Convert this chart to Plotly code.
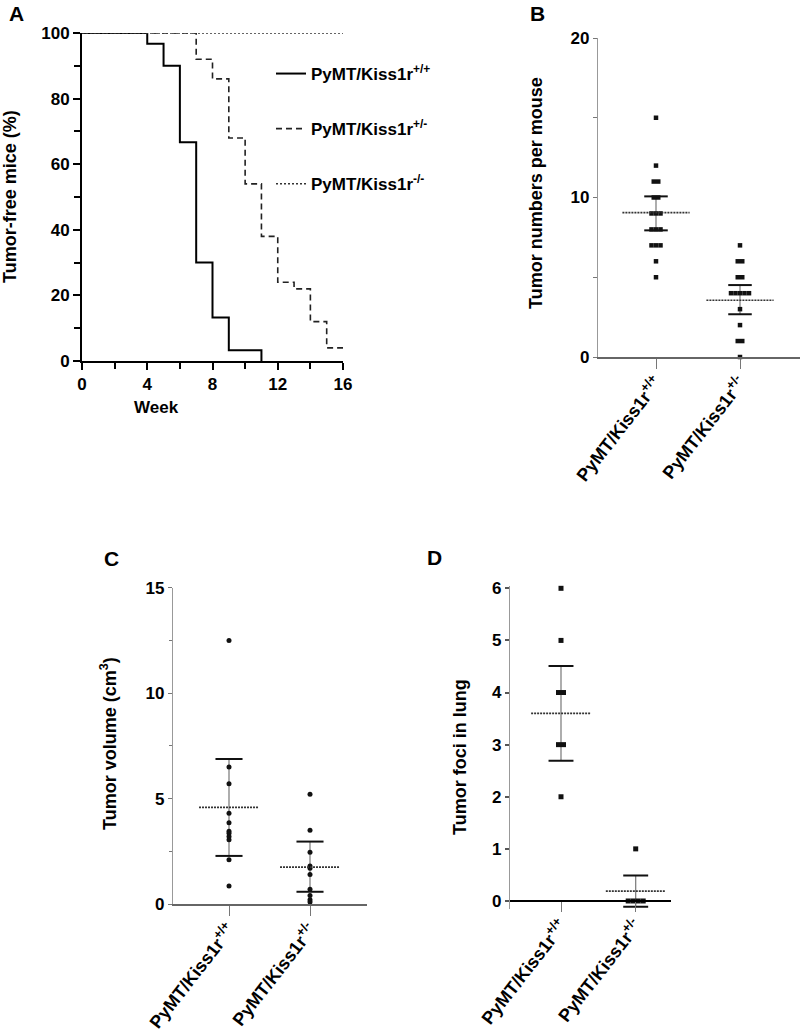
import plotly.graph_objects as go

# ---------------- data ----------------
# Panel A: Kaplan-Meier tumor-free curves
weeks_wt = [0, 4, 5, 6, 7, 8, 9, 11]
surv_wt = [100, 96.7, 90, 66.7, 30, 13.3, 3.3, 0]
weeks_het = [0, 7, 8, 9, 10, 11, 12, 13, 14, 15, 16]
surv_het = [100, 92, 86, 68, 54, 38, 24, 22, 12, 4, 4]
weeks_ko = [0, 16]
surv_ko = [100, 100]
legend_names = ["PyMT/Kiss1r<sup>+/+</sup>", "PyMT/Kiss1r<sup>+/-</sup>", "PyMT/Kiss1r<sup>-/-</sup>"]

categories = ["PyMT/Kiss1r<sup>+/+</sup>", "PyMT/Kiss1r<sup>+/-</sup>"]

# Panel B: tumor numbers per mouse
B_wt = [15, 12, 11, 11, 10, 10, 9, 9, 9, 8, 8, 8, 7, 7, 7, 6, 5]
B_het = [7, 6, 6, 5, 5, 4, 4, 4, 4, 4, 3, 2, 1, 1, 0]
B_mean = [9.05, 3.56]
B_hi = [10.07, 4.51]
B_lo = [7.94, 2.68]

# Panel C: tumor volume (cm3)
C_wt = [12.5, 6.5, 5.7, 4.3, 3.85, 3.45, 3.35, 3.2, 3.05, 2.1, 0.85]
C_het = [5.2, 3.5, 2.45, 1.8, 1.7, 1.4, 0.7, 0.4, 0.2, 0.1]
C_mean = [4.58, 1.75]
C_hi = [6.88, 2.96]
C_lo = [2.28, 0.58]

# Panel D: tumor foci in lung
D_wt = [6, 5, 4, 4, 3, 3, 2]
D_het = [1, 0, 0, 0, 0]
D_mean = [3.6, 0.19]
D_hi = [4.51, 0.49]
D_lo = [2.69, -0.11]

# ---------------- helpers ----------------
W, H = 800, 1031
FONT = "Liberation Sans, Arial, sans-serif"


def px_x(p):
    return p / W


def px_y(p):
    return 1 - p / H


def tie_offsets(vals, step):
    counts = {}
    for v in vals:
        counts[v] = counts.get(v, 0) + 1
    seen = {}
    out = []
    for v in vals:
        k = seen.get(v, 0)
        seen[v] = k + 1
        out.append((k - (counts[v] - 1) / 2) * step)
    return out


fig = go.Figure()

# ---- Panel A ----
fig.add_trace(go.Scatter(x=weeks_wt, y=surv_wt, mode="lines", line=dict(color="black", width=2, shape="hv"),
                         name=legend_names[0], legendgroup="a", xaxis="x", yaxis="y", cliponaxis=False))
fig.add_trace(go.Scatter(x=weeks_het, y=surv_het, mode="lines",
                         line=dict(color="#222", width=1.6, shape="hv", dash="6px,4px"),
                         name=legend_names[1], legendgroup="b", xaxis="x", yaxis="y", cliponaxis=False))
fig.add_trace(go.Scatter(x=weeks_ko, y=surv_ko, mode="lines",
                         line=dict(color="#333", width=1.5, shape="hv", dash="2px,2px"),
                         name=legend_names[2], legendgroup="c", xaxis="x", yaxis="y", cliponaxis=False))


def add_dot_panel(xa, ya, groups, means, his, los, step, msym, msize, cap_half, mean_half):
    for i, vals in enumerate(groups):
        cx = i + 1
        fig.add_trace(go.Scatter(x=[cx, cx], y=[los[i], his[i]], mode="lines",
                                 line=dict(color="#777", width=1.2), showlegend=False,
                                 xaxis=xa, yaxis=ya, hoverinfo="skip", cliponaxis=False))
        offs = tie_offsets(vals, step)
        fig.add_trace(go.Scatter(x=[cx + o for o in offs], y=vals, mode="markers",
                                 marker=dict(color="#111", size=msize, symbol=msym),
                                 showlegend=False, xaxis=xa, yaxis=ya, cliponaxis=False))
        fig.add_trace(go.Scatter(x=[cx - cap_half, cx + cap_half, None, cx - cap_half, cx + cap_half],
                                 y=[his[i], his[i], None, los[i], los[i]], mode="lines",
                                 line=dict(color="#111", width=2), showlegend=False,
                                 xaxis=xa, yaxis=ya, hoverinfo="skip", cliponaxis=False))
        fig.add_trace(go.Scatter(x=[cx - mean_half, cx + mean_half], y=[means[i], means[i]], mode="lines",
                                 line=dict(color="#333", width=1.6, dash="2px,1px"), showlegend=False,
                                 xaxis=xa, yaxis=ya, hoverinfo="skip", cliponaxis=False))


add_dot_panel("x2", "y2", [B_wt, B_het], B_mean, B_hi, B_lo, 4.5 / 84, "square", 4.5, 0.14, 0.4)
add_dot_panel("x3", "y3", [C_wt, C_het], C_mean, C_hi, C_lo, 4.5 / 81, "circle", 5, 0.167, 0.37)
add_dot_panel("x4", "y4", [D_wt, D_het], D_mean, D_hi, D_lo, 5 / 74.7, "square", 5, 0.167, 0.4)

tickfont = dict(family=FONT, size=17, color="black", weight="bold")
catfont = dict(family=FONT, size=18, color="black", weight="bold")

common = dict(automargin=False, showgrid=False, zeroline=False, showline=True)
catcommon = dict(tickmode="array", tickvals=[1, 2], ticktext=categories, tickangle=-52,
                 ticks="outside", ticklen=10, tickwidth=1, tickcolor="#777", tickfont=catfont,
                 ticklabelstandoff=-4)

layout = dict(
    width=W, height=H, margin=dict(l=0, r=0, t=0, b=0, autoexpand=False),
    paper_bgcolor="white", plot_bgcolor="white", showlegend=True,
    font=dict(family=FONT, color="black"),
    legend=dict(x=px_x(271), y=px_y(56), xanchor="left", yanchor="top",
                font=dict(family=FONT, size=17, color="black", weight="bold"),
                tracegroupgap=30, traceorder="grouped", bgcolor="rgba(0,0,0,0)",
                itemwidth=30),
    # Panel A
    xaxis=dict(domain=[px_x(82), px_x(343)], range=[0, 16], anchor="y",
               linecolor="black", linewidth=2,
               ticks="outside", ticklen=7, tickwidth=2, tickcolor="black", dtick=4, tick0=0,
               minor=dict(dtick=2, ticks="outside", ticklen=6, tickwidth=1.5, tickcolor="black"),
               tickfont=tickfont, **common),
    yaxis=dict(domain=[px_y(361), px_y(33)], range=[0, 100], anchor="x",
               linecolor="black", linewidth=2,
               ticks="outside", ticklen=7, tickwidth=2, tickcolor="black", dtick=20, tick0=0,
               minor=dict(dtick=10, ticks="outside", ticklen=6, tickwidth=1.5, tickcolor="black"),
               tickfont=tickfont, **common),
    # Panel B
    xaxis2=dict(domain=[px_x(598), px_x(800)], range=[1 - 58 / 84, 2 + 60 / 84], anchor="y2",
                linecolor="#666", linewidth=2, **catcommon, **common),
    yaxis2=dict(domain=[px_y(357), px_y(38)], range=[0, 20], anchor="x2",
                linecolor="#999", linewidth=1.2,
                ticks="outside", ticklen=4, tickwidth=1, tickcolor="#777", dtick=10, tick0=0,
                minor=dict(dtick=5, ticks="outside", ticklen=4, tickwidth=1, tickcolor="#777"),
                tickfont=tickfont, **common),
    # Panel C
    xaxis3=dict(domain=[px_x(173), px_x(367)], range=[1 - 56 / 81, 2 + 57 / 81], anchor="y3",
                linecolor="#666", linewidth=2, **catcommon, **common),
    yaxis3=dict(domain=[px_y(904), px_y(587.7)], range=[0, 15], anchor="x3",
                linecolor="#999", linewidth=1.2,
                ticks="outside", ticklen=4, tickwidth=1, tickcolor="#777", dtick=5, tick0=0,
                minor=dict(dtick=2.5, ticks="outside", ticklen=3, tickwidth=1, tickcolor="#777"),
                tickfont=tickfont, **common),
    # Panel D
    xaxis4=dict(domain=[px_x(510), px_x(671)], range=[1 - 51 / 74.7, 2 + 35.3 / 74.7],
                anchor="free", position=px_y(901),
                linecolor="black", linewidth=2, **catcommon, **common),
    yaxis4=dict(domain=[px_y(908.8), px_y(585.7)], range=[-0.15, 6.05], anchor="x4",
                linecolor="#999", linewidth=1.2,
                ticks="outside", ticklen=4, tickwidth=1.5, tickcolor="#555", dtick=1, tick0=0,
                tickfont=tickfont, **common),
)
fig.update_layout(**layout)

title_font = dict(family=FONT, size=18, color="black", weight="bold")
letter_font = dict(family=FONT, size=21, color="black", weight="bold")
annos = [
    dict(text="A", x=px_x(16), y=px_y(14), font=letter_font),
    dict(text="B", x=px_x(537), y=px_y(13), font=letter_font),
    dict(text="C", x=px_x(111), y=px_y(558), font=letter_font),
    dict(text="D", x=px_x(434), y=px_y(557), font=letter_font),
    dict(text="Tumor-free mice (%)", x=px_x(10), y=px_y(197), textangle=-90, font=title_font),
    dict(text="Week", x=px_x(156), y=px_y(407), font=dict(family=FONT, size=17, color="black", weight="bold")),
    dict(text="Tumor numbers per mouse", x=px_x(536), y=px_y(193), textangle=-90, font=title_font),
    dict(text="Tumor volume (cm<sup>3</sup>)", x=px_x(108), y=px_y(744), textangle=-90, font=title_font),
    dict(text="Tumor foci in lung", x=px_x(460), y=px_y(757), textangle=-90, font=title_font),
]
for a in annos:
    a.update(xref="paper", yref="paper", showarrow=False, xanchor="center", yanchor="middle")
fig.update_layout(annotations=annos)

fig.write_html("out.html", config={"displayModeBar": False},
               post_script="document.body.style.margin='0px';")
